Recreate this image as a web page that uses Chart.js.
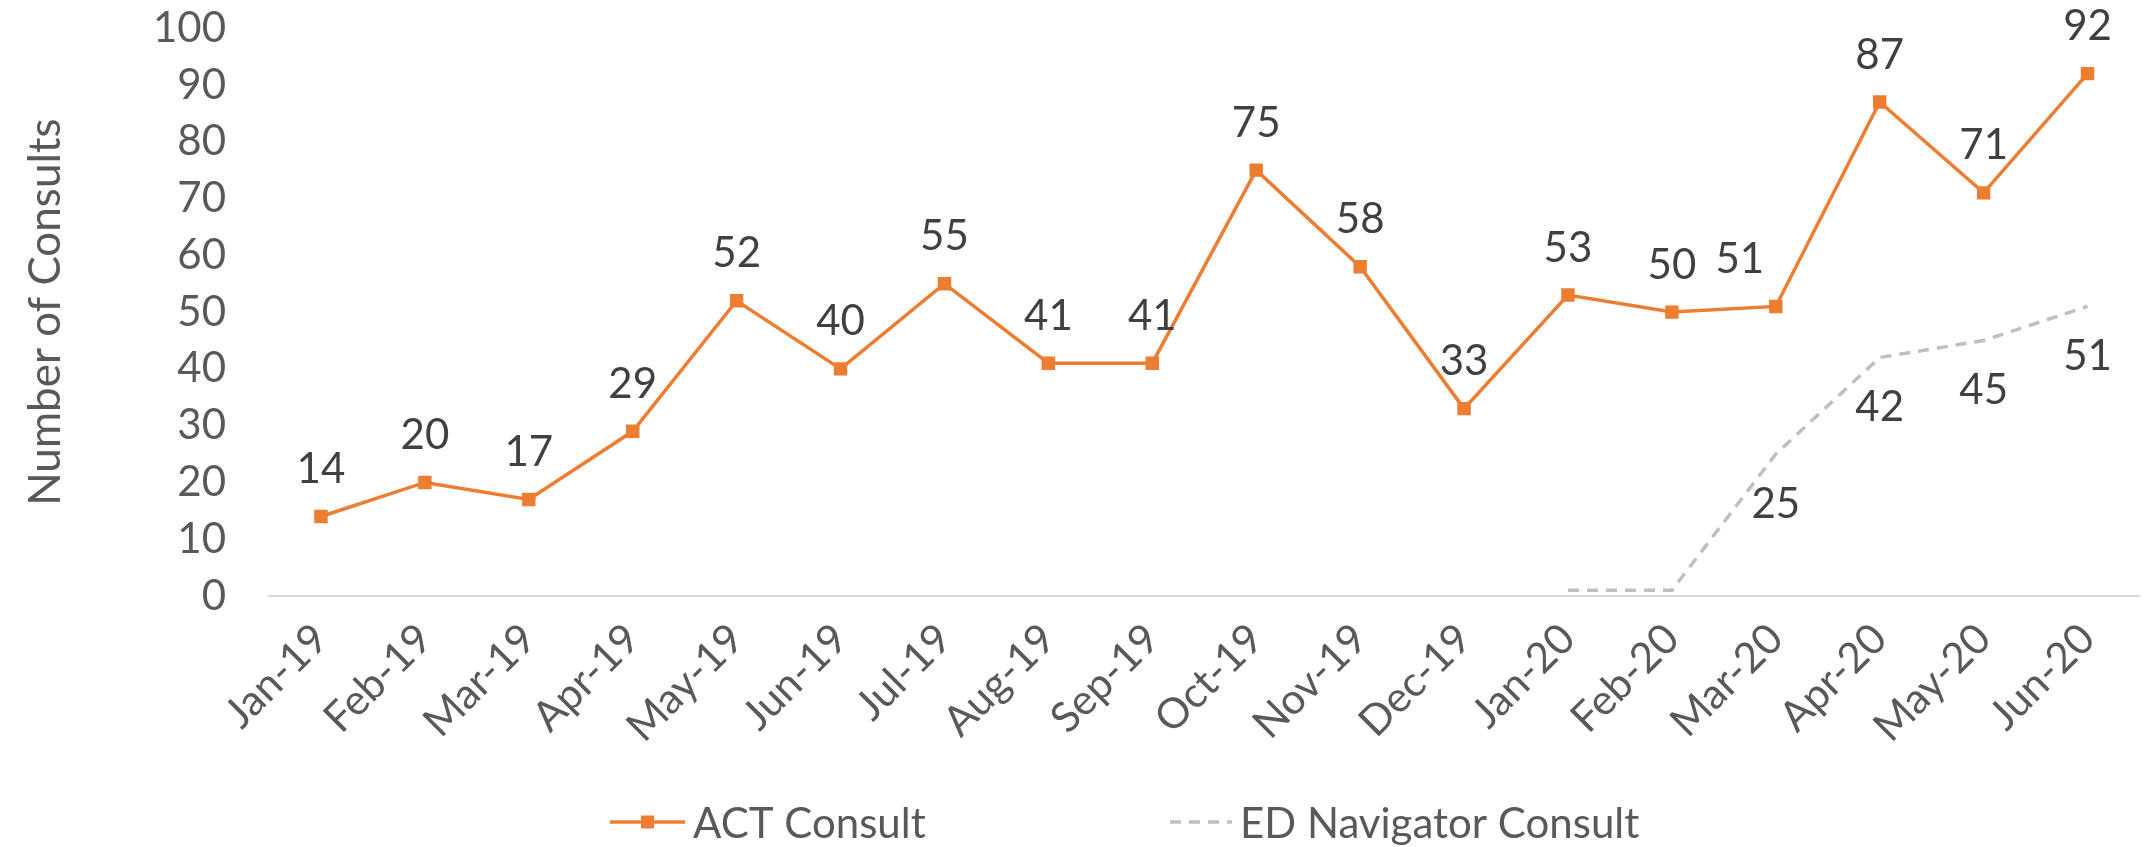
<!DOCTYPE html>
<html>
<head>
<meta charset="utf-8">
<script src="https://cdn.jsdelivr.net/npm/chart.js@4.4.0/dist/chart.umd.min.js"></script>
<style>
  html, body { margin: 0; padding: 0; background: #fff; }
  #wrap { width: 2149px; height: 847px; }
</style>
</head>
<body>
<div id="wrap"><canvas id="chart" width="2149" height="847"></canvas></div>
<script>
// data
const months = ['Jan-19', 'Feb-19', 'Mar-19', 'Apr-19', 'May-19', 'Jun-19', 'Jul-19', 'Aug-19', 'Sep-19',
                'Oct-19', 'Nov-19', 'Dec-19', 'Jan-20', 'Feb-20', 'Mar-20', 'Apr-20', 'May-20', 'Jun-20'];
const actConsult = [14, 20, 17, 29, 52, 40, 55, 41, 41, 75, 58, 33, 53, 50, 51, 87, 71, 92];
const navigatorConsult = [null, null, null, null, null, null, null, null, null, null, null, null,
                          1, 1, 25, 42, 45, 51];
const yMin = 0;
const yMax = 100;
const yStep = 10;

const FONT = 'Lato, "Open Sans", sans-serif';
const ORANGE = '#ED7D31';
const GREY = '#BFBFBF';

// value labels above (ACT) / below (ED Navigator) the points
const valueLabels = {
    id: 'valueLabels',
    afterDatasetsDraw(chart) {
        const ctx = chart.ctx;
        ctx.save();
        ctx.font = '42px ' + FONT;
        ctx.fillStyle = '#404040';
        ctx.textAlign = 'center';
        ctx.textBaseline = 'middle';
        chart.data.datasets.forEach((ds, i) => {
            const meta = chart.getDatasetMeta(i);
            const skip = ds.hideLabels || [];
            const nudge = ds.labelNudge || {};
            meta.data.forEach((pt, idx) => {
                const v = ds.data[idx];
                if (v === null || skip.includes(idx)) return;
                const dy = ds.labelBelow ? 50 : -47;
                ctx.fillText(String(v), pt.x + (nudge[idx] || 0), pt.y + dy);
            });
        });
        ctx.restore();
    }
};

// excel-like legend along the bottom
const bottomLegend = {
    id: 'bottomLegend',
    afterDraw(chart) {
        const ctx = chart.ctx;
        const y = 822;
        const items = [
            { ds: chart.data.datasets[0], x: 610, len: 75 },
            { ds: chart.data.datasets[1], x: 1170, len: 62 }
        ];
        ctx.save();
        ctx.font = '42px ' + FONT;
        ctx.textBaseline = 'middle';
        ctx.textAlign = 'left';
        items.forEach(item => {
            const ds = item.ds;
            ctx.strokeStyle = ds.borderColor;
            ctx.lineWidth = ds.borderWidth;
            ctx.setLineDash(ds.borderDash || []);
            ctx.beginPath();
            ctx.moveTo(item.x, y);
            ctx.lineTo(item.x + item.len, y);
            ctx.stroke();
            ctx.setLineDash([]);
            if (ds.pointRadius > 0) {
                ctx.fillStyle = ds.pointBackgroundColor;
                const s = 13;
                ctx.fillRect(item.x + item.len / 2 - s / 2, y - s / 2, s, s);
            }
            ctx.fillStyle = '#595959';
            ctx.fillText(ds.label, item.x + item.len + 8, y + 2);
        });
        ctx.restore();
    }
};

const config = {
    type: 'line',
    data: {
        labels: months,
        datasets: [
            {
                label: 'ACT Consult',
                data: actConsult,
                borderColor: ORANGE,
                backgroundColor: ORANGE,
                borderWidth: 3.5,
                pointStyle: 'rect',
                pointRadius: 9.5,
                pointBackgroundColor: ORANGE,
                pointBorderWidth: 0,
                tension: 0,
                labelNudge: { 14: -36 }
            },
            {
                label: 'ED Navigator Consult',
                data: navigatorConsult,
                borderColor: GREY,
                backgroundColor: GREY,
                borderWidth: 3.5,
                borderDash: [11, 8],
                pointRadius: 0,
                tension: 0,
                labelBelow: true,
                hideLabels: [12, 13]
            }
        ]
    },
    options: {
        responsive: false,
        animation: false,
        devicePixelRatio: 1,
        layout: {
            padding: { left: 0, right: 4, top: 0, bottom: 81 }
        },
        scales: {
            y: {
                min: yMin,
                max: yMax,
                ticks: {
                    stepSize: yStep,
                    autoSkip: false,
                    padding: 3,
                    color: '#595959',
                    font: { family: FONT, size: 42 }
                },
                // invisible tick marks just push the labels away from the plot
                grid: { display: false, drawTicks: true, tickLength: 40, tickColor: 'rgba(0,0,0,0)' },
                border: { display: false },
                title: {
                    display: true,
                    text: 'Number of Consults',
                    color: '#595959',
                    font: { family: FONT, size: 44 },
                    padding: { top: 19, bottom: 0 }
                },
                afterFit: (scale) => { scale.width = 269; }
            },
            x: {
                offset: true,
                ticks: {
                    minRotation: 45,
                    maxRotation: 45,
                    autoSkip: false,
                    padding: 18,
                    color: '#595959',
                    font: { family: FONT, size: 42 }
                },
                grid: { display: false, drawTicks: false },
                border: { display: true, color: '#D9D9D9', width: 2 },
                afterFit: (scale) => { scale.height = 170; }
            }
        },
        plugins: {
            legend: { display: false },
            tooltip: { enabled: false }
        }
    },
    plugins: [valueLabels, bottomLegend]
};

const chart = new Chart(document.getElementById('chart').getContext('2d'), config);
</script>
</body>
</html>
